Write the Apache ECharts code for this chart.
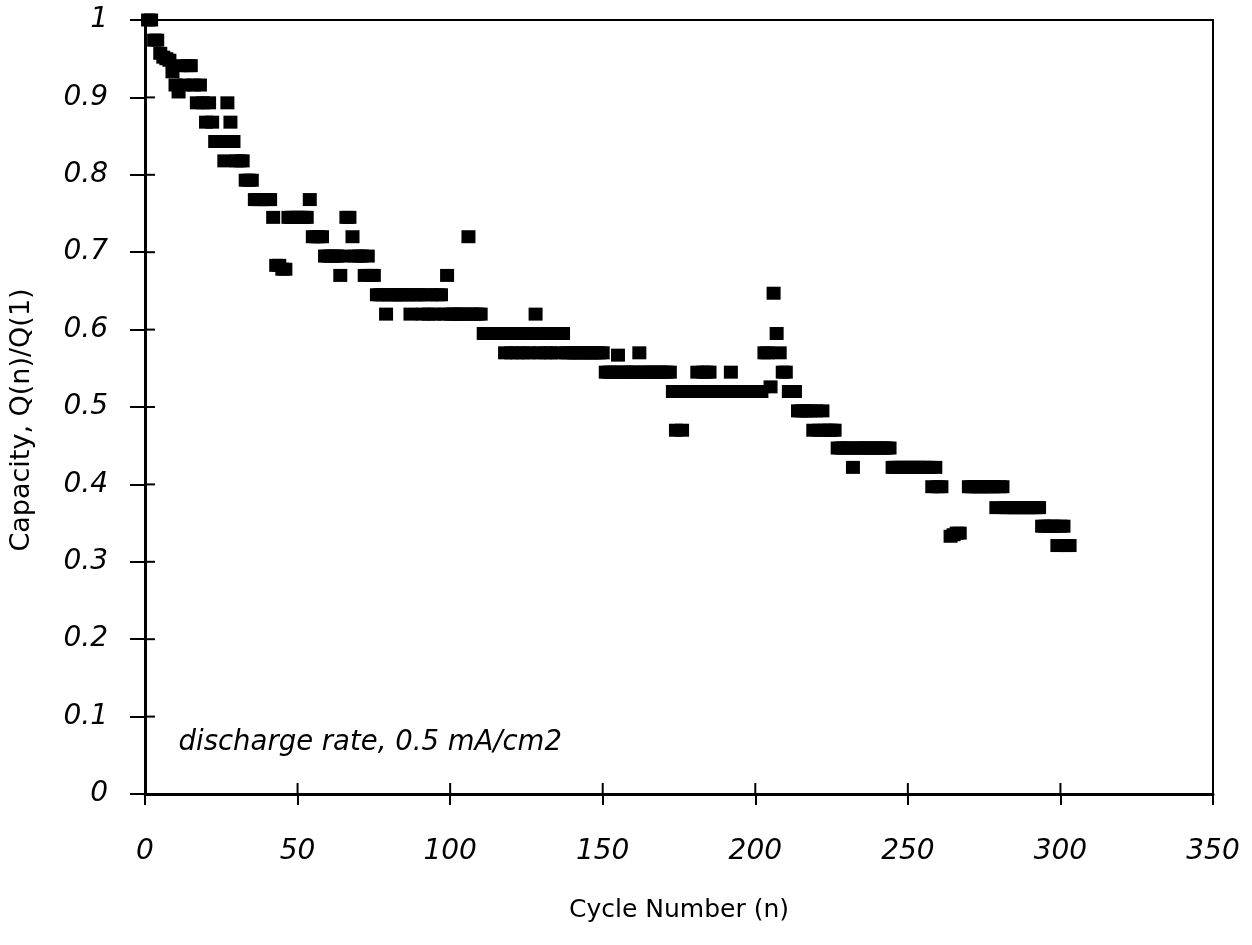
<!DOCTYPE html>
<html><head><meta charset="utf-8">
<script src="https://cdn.jsdelivr.net/npm/echarts@6/dist/echarts.min.js"></script>
<style>html,body{margin:0;padding:0;background:#fff}#c{width:1252px;height:945px}</style>
</head><body><div id="c"></div>
<script>
// Cycle numbers and normalized capacity values
var cycles = [1,2,3,4,5,6,7,8,9,10,11,12,13,14,15,16,17,18,19,20,
21,22,23,24,25,26,27,28,29,30,31,32,33,34,35,36,37,38,39,40,
41,42,43,44,45,46,47,48,49,50,51,52,53,54,55,56,57,58,59,60,
61,62,63,64,65,66,67,68,69,70,71,72,73,74,75,76,77,78,79,80,
81,82,83,84,85,86,87,88,89,90,91,92,93,94,95,96,97,98,99,100,
101,102,103,104,105,106,107,108,109,110,111,112,113,114,115,116,117,118,119,120,
121,122,123,124,125,126,127,128,129,130,131,132,133,134,135,136,137,138,139,140,
141,142,143,144,145,146,147,148,149,150,151,152,153,154,155,156,157,158,159,160,
161,162,163,164,165,166,167,168,169,170,171,172,173,174,175,176,177,178,179,180,
181,182,183,184,185,186,187,188,189,190,191,192,193,194,195,196,197,198,199,200,
201,202,203,204,205,206,207,208,209,210,211,212,213,214,215,216,217,218,219,220,
221,222,223,224,225,226,227,228,229,230,231,232,233,234,235,236,237,238,239,240,
241,242,243,244,245,246,247,248,249,250,251,252,253,254,255,256,257,258,259,260,
261,264,265,266,267,270,271,272,273,274,275,276,277,278,279,280,
281,282,283,284,285,286,287,288,289,290,291,292,293,294,295,296,297,298,299,300,
301,302,303];
var capacity = [1.000,1.000,0.974,0.974,0.957,0.952,0.950,0.948,0.933,0.916,0.907,0.941,0.916,0.941,0.941,0.916,0.893,0.916,0.893,0.868,
0.893,0.868,0.843,0.843,0.843,0.818,0.893,0.868,0.843,0.818,0.818,0.818,0.793,0.793,0.793,0.768,0.768,0.768,0.768,0.768,
0.768,0.745,0.683,0.683,0.678,0.678,0.745,0.745,0.745,0.745,0.745,0.745,0.745,0.768,0.720,0.720,0.720,0.720,0.695,0.695,
0.695,0.695,0.695,0.670,0.695,0.745,0.745,0.720,0.695,0.695,0.695,0.670,0.695,0.670,0.670,0.645,0.645,0.645,0.620,0.645,
0.645,0.645,0.645,0.645,0.645,0.645,0.620,0.645,0.645,0.645,0.620,0.645,0.620,0.645,0.620,0.645,0.645,0.620,0.670,0.620,
0.620,0.620,0.620,0.620,0.620,0.720,0.620,0.620,0.620,0.620,0.595,0.595,0.595,0.595,0.595,0.595,0.595,0.570,0.595,0.570,
0.595,0.570,0.595,0.570,0.595,0.570,0.595,0.620,0.570,0.595,0.570,0.595,0.570,0.595,0.570,0.595,0.595,0.570,0.570,0.570,
0.570,0.570,0.570,0.570,0.570,0.570,0.570,0.570,0.570,0.570,0.545,0.545,0.545,0.545,0.567,0.545,0.545,0.545,0.545,0.545,
0.545,0.570,0.545,0.545,0.545,0.545,0.545,0.545,0.545,0.545,0.545,0.545,0.520,0.470,0.520,0.470,0.520,0.520,0.520,0.520,
0.545,0.520,0.545,0.545,0.545,0.520,0.520,0.520,0.520,0.520,0.520,0.545,0.520,0.520,0.520,0.520,0.520,0.520,0.520,0.520,
0.520,0.520,0.570,0.570,0.526,0.647,0.595,0.570,0.545,0.545,0.520,0.520,0.520,0.495,0.495,0.495,0.495,0.495,0.470,0.495,
0.470,0.495,0.470,0.470,0.470,0.470,0.447,0.447,0.447,0.447,0.447,0.422,0.447,0.447,0.447,0.447,0.447,0.447,0.447,0.447,
0.447,0.447,0.447,0.447,0.422,0.422,0.422,0.422,0.422,0.422,0.422,0.422,0.422,0.422,0.422,0.422,0.422,0.397,0.422,0.397,
0.397,0.333,0.335,0.337,0.337,0.397,0.397,0.397,0.397,0.397,0.397,0.397,0.397,0.397,0.370,0.397,
0.397,0.370,0.370,0.370,0.370,0.370,0.370,0.370,0.370,0.370,0.370,0.370,0.370,0.346,0.346,0.346,0.346,0.346,0.321,0.346,
0.346,0.321,0.321];
var xTicks = [0,50,100,150,200,250,300,350];
var yTicks = [0,0.1,0.2,0.3,0.4,0.5,0.6,0.7,0.8,0.9,1];
var annotation = 'discharge rate, 0.5 mA/cm2';

var points = cycles.map(function(c,i){return [c, capacity[i]];});
var font = 'DejaVu Sans';
var chart = echarts.init(document.getElementById('c'));
chart.setOption({
  animation:false,
  backgroundColor:'#fff',
  grid:{left:145,right:39,top:20,bottom:151,show:true,borderColor:'#000',borderWidth:2,backgroundColor:'transparent'},
  xAxis:{
    type:'value',min:0,max:350,interval:50,position:'bottom',
    name:'Cycle Number (n)',nameLocation:'middle',nameGap:104,
    nameTextStyle:{fontFamily:font,fontSize:25,color:'#000'},
    axisLine:{show:true,lineStyle:{color:'#000',width:3}},
    axisTick:{show:true,inside:false,length:11,lineStyle:{color:'#000',width:2}},
    axisLabel:{margin:44,fontFamily:font,fontStyle:'italic',fontSize:28,color:'#000',formatter:function(v){return String(v);}},
    splitLine:{show:false}
  },
  yAxis:{
    type:'value',min:0,max:1,interval:0.1,position:'left',
    name:'Capacity, Q(n)/Q(1)',nameLocation:'middle',nameGap:110,nameRotate:90,
    nameTextStyle:{fontFamily:font,fontSize:27,color:'#000',padding:[0,0,0,-26]},
    axisLine:{show:true,lineStyle:{color:'#000',width:3}},
    axisTick:{show:true,inside:false,length:15,lineStyle:{color:'#000',width:2}},
    axisLabel:{margin:37,fontFamily:font,fontStyle:'italic',fontSize:28,color:'#000',
      formatter:function(v){return v===0?'0':(v===1?'1':v.toFixed(1));}},
    splitLine:{show:false}
  },
  series:[{
    // inner halves of the crossing x-axis ticks
    type:'scatter',silent:true,clip:false,z:5,
    data:xTicks.map(function(v){return [v,0];}),
    symbol:'rect',symbolSize:[2,11],symbolOffset:[0,-5.5],
    itemStyle:{color:'#000',opacity:1}
  },{
    // inner halves of the crossing y-axis ticks
    type:'scatter',silent:true,clip:false,z:5,
    data:yTicks.map(function(v){return [0,v];}),
    symbol:'rect',symbolSize:[10,2],symbolOffset:[5,0],
    itemStyle:{color:'#000',opacity:1}
  },{
    type:'scatter',data:points,
    symbol:'rect',symbolSize:[14,13],
    itemStyle:{color:'#000',opacity:1}
  }]
});
var a = chart.convertToPixel({gridIndex:0},[11,0.066]);
chart.setOption({graphic:[{type:'text',z:10,x:a[0],y:a[1],style:{text:annotation,font:'italic 27.5px "DejaVu Sans"',fill:'#000',textVerticalAlign:'middle'}}]});
</script></body></html>
